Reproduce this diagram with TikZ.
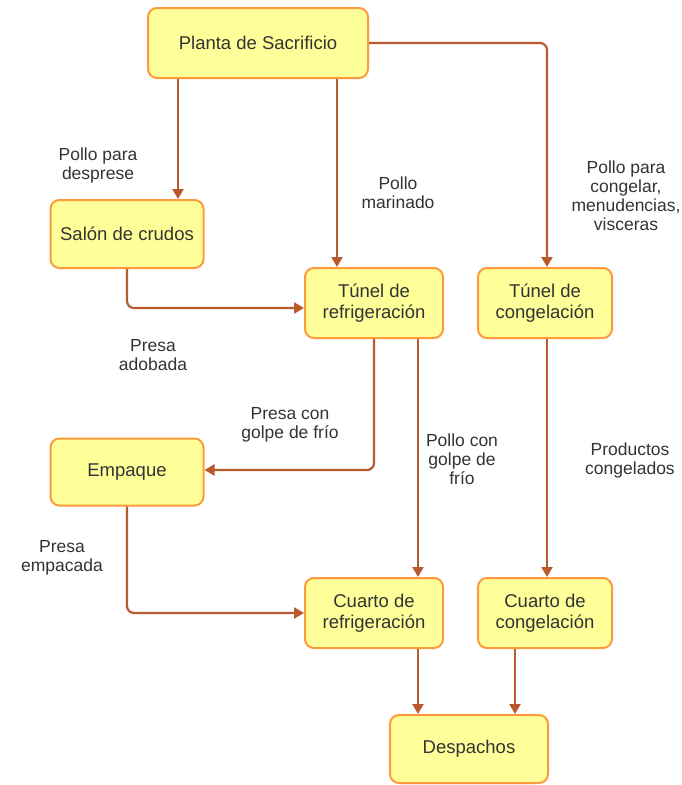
\documentclass[tikz,border=0pt]{standalone}
\usepackage{fontspec}
\setmainfont{Liberation Sans}
\usepackage{xcolor}
\definecolor{boxfill}{HTML}{FFFF99}
\definecolor{boxline}{HTML}{FF9A3C}
\definecolor{flowbrown}{HTML}{B8592E}
\definecolor{txtgray}{HTML}{333333}
\usetikzlibrary{positioning,arrows.meta,calc}

\begin{document}
\begin{tikzpicture}[
  x=1pt, y=-1pt,
  font=\fontsize{18.5}{21}\selectfont, text=txtgray,
  box/.style={draw=boxline, line width=2pt, rounded corners=9pt, fill=boxfill,
              align=center, inner sep=4pt},
  arr/.style={-{Triangle[length=10pt,width=11pt]}, line width=2.2pt, color=flowbrown,
              rounded corners=7pt},
  ev/.style={align=center, inner sep=1pt, font=\fontsize{17.5}{19}\selectfont},
]
  \useasboundingbox (0,0) rectangle (681,785);

  \node[box, minimum width=220pt, minimum height=70pt] (plant)  at (258,43)  {Planta de Sacrificio};
  \node[box, minimum width=153pt, minimum height=68pt] (salon)  at (127,234) {Salón de crudos};
  \node[box, minimum width=138pt, minimum height=70pt] (trefr)  at (374,303) {Túnel de\\refrigeración};
  \node[box, minimum width=134pt, minimum height=70pt] (tcong)  at (545,303) {Túnel de\\congelación};
  \node[box, minimum width=153pt, minimum height=67pt] (pack)   at (127,472) {Empaque};
  \node[box, minimum width=138pt, minimum height=70pt] (crefr)  at (374,613) {Cuarto de\\refrigeración};
  \node[box, minimum width=134pt, minimum height=70pt] (ccong)  at (545,613) {Cuarto de\\congelación};
  \node[box, minimum width=158pt, minimum height=68pt] (disp)   at (469,749) {Despachos};

  % etiquetas de los flujos
  \node[ev] (lbsalon) at (98,165)  {Pollo para\\desprese};
  \node[ev] (lbmar)   at (398,193) {Pollo\\marinado};
  \node[ev] (lbcong)  at (626,196) {Pollo para\\congelar,\\menudencias,\\visceras};
  \node[ev] (lbadob)  at (153,355) {Presa\\adobada};
  \node[ev] (lbgolpe) at (290,425) {Presa con\\golpe de frío};
  \node[ev] (lbpollo) at (462,459) {Pollo con\\golpe de\\frío};
  \node[ev] (lbprod)  at (630,460) {Productos\\congelados};
  \node[ev] (lbemp)   at (62,558)  {Presa\\empacada};

  \draw[arr] ([xshift=-80pt]plant.south) -- ([xshift=-80pt]plant.south |- salon.north);
  \draw[arr] ([xshift=79pt]plant.south) -- ([xshift=79pt]plant.south |- trefr.north);
  \draw[arr] (plant.east) -| ([xshift=2pt]tcong.north);
  \draw[arr] (salon.south) |- ([yshift=-5pt]trefr.west);
  \draw[arr] (trefr.south) |- ([yshift=2pt]pack.east);
  \draw[arr] ([xshift=44pt]trefr.south) -- ([xshift=44pt]trefr.south |- crefr.north);
  \draw[arr] ([xshift=2pt]tcong.south) -- ([xshift=2pt]ccong.north);
  \draw[arr] (pack.south) |- (crefr.west);
  \draw[arr] ([xshift=44pt]crefr.south) -- ([xshift=44pt]crefr.south |- disp.north);
  \draw[arr] ([xshift=-30pt]ccong.south) -- ([xshift=-30pt]ccong.south |- disp.north);
\end{tikzpicture}
\end{document}
